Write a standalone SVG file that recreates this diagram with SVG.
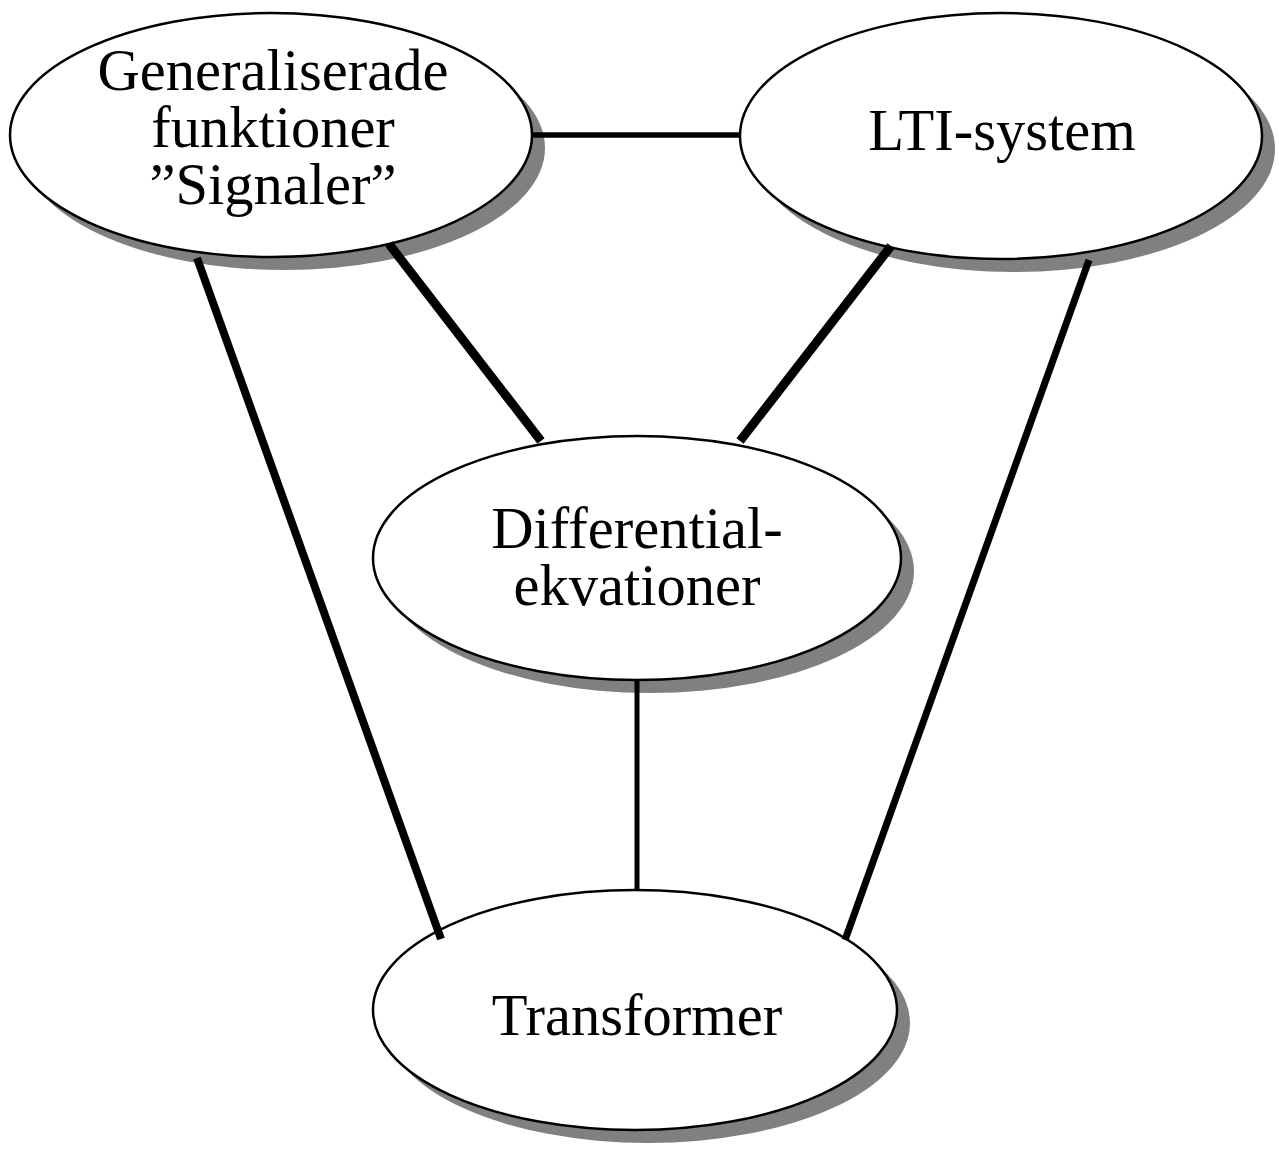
<svg xmlns="http://www.w3.org/2000/svg" width="1279" height="1153" viewBox="0 0 1279 1153">
<style>
.shadow{fill:#808080;stroke:none}
.node{fill:#fff;stroke:#000;stroke-width:2.5}
.lbl{font-family:"Liberation Serif","Times New Roman",serif;font-size:58.5px;fill:#000;text-anchor:middle}
.c{stroke:#000;fill:none;stroke-linecap:butt}
</style>
<rect width="1279" height="1153" fill="#fff"/>
<g id="node-gen">
<ellipse class="shadow" cx="284" cy="148" rx="261" ry="122"/>
<ellipse class="node" cx="271" cy="135" rx="261" ry="122"/>
<text class="lbl" x="273" y="90">Generaliserade</text>
<text class="lbl" x="273" y="147">funktioner</text>
<text class="lbl" x="273" y="204">”Signaler”</text>
</g>
<g id="node-lti">
<ellipse class="shadow" cx="1014" cy="149" rx="261" ry="123"/>
<ellipse class="node" cx="1001" cy="136" rx="261" ry="123"/>
<text class="lbl" x="1002" y="150">LTI-system</text>
</g>
<g id="node-diff">
<ellipse class="shadow" cx="650" cy="571" rx="264" ry="122"/>
<ellipse class="node" cx="637" cy="558" rx="264" ry="122"/>
<text class="lbl" x="637" y="548">Differential-</text>
<text class="lbl" x="637" y="605">ekvationer</text>
</g>
<g id="node-trans">
<ellipse class="shadow" cx="648" cy="1023" rx="262" ry="120"/>
<ellipse class="node" cx="635" cy="1010" rx="262" ry="120"/>
<text class="lbl" x="637" y="1035">Transformer</text>
</g>
<g id="connectors">
<line class="c" x1="533" y1="135" x2="740" y2="135" stroke-width="5.5"/>
<line class="c" x1="197" y1="258" x2="441" y2="939" stroke-width="8"/>
<line class="c" x1="389" y1="244" x2="541" y2="441" stroke-width="9"/>
<line class="c" x1="891" y1="246" x2="740" y2="441" stroke-width="9"/>
<line class="c" x1="1089" y1="260" x2="845" y2="940" stroke-width="7"/>
<line class="c" x1="637" y1="680" x2="637" y2="891" stroke-width="5"/>
</g>
</svg>
